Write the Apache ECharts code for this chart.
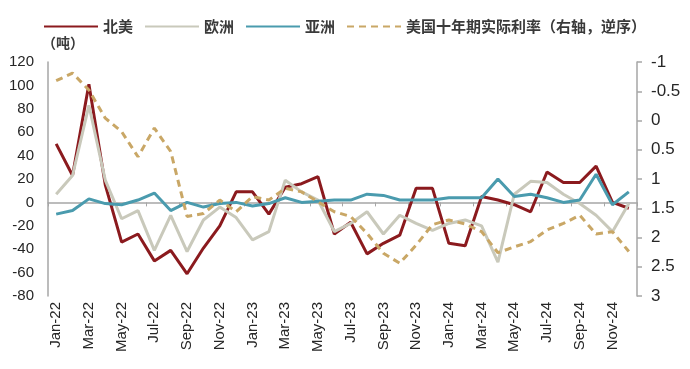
<!DOCTYPE html>
<html>
<head>
<meta charset="utf-8">
<script src="https://cdn.jsdelivr.net/npm/echarts@6/dist/echarts.min.js"></script>
<style>
html,body{margin:0;padding:0;background:#fff;}
#c{width:690px;height:369px;}
</style>
</head>
<body>
<div id="c"></div>
<script>
var months = ["Jan-22","Feb-22","Mar-22","Apr-22","May-22","Jun-22","Jul-22","Aug-22","Sep-22","Oct-22","Nov-22","Dec-22",
              "Jan-23","Feb-23","Mar-23","Apr-23","May-23","Jun-23","Jul-23","Aug-23","Sep-23","Oct-23","Nov-23","Dec-23",
              "Jan-24","Feb-24","Mar-24","Apr-24","May-24","Jun-24","Jul-24","Aug-24","Sep-24","Oct-24","Nov-24","Dec-24"];
var northAmerica = [50, 23, 101, 15, -34, -27, -50, -41, -61, -39, -20, 9,
                    9, -10, 13, 16, 22, -27, -17, -44, -35, -28, 12, 12,
                    -35, -37, 5, 2, -2, -8, 26, 17, 17, 31, 0, -5];
var europe = [7, 23, 83, 19, -14, -7, -41, -11, -42, -15, -4, -13,
              -32, -25, 19, 9, 2, -25, -18, -8, -27, -11, -18, -24,
              -18, -15, -20, -51, 7, 18, 17, 7, -1, -11, -25, -1];
var asia = [-10, -7, 3, -1, -2, 2, 8, -7, 0, -4, -1, 0,
            -3, -1, 4, 0, 1, 2, 2, 7, 6, 2, 2, 2,
            4, 4, 4, 20, 5, 7, 4, 0, 2, 24, -2, 9];
var realRate = [-0.68, -0.81, -0.52, -0.04, 0.19, 0.62, 0.13, 0.53, 1.64, 1.59, 1.36, 1.56,
                1.30, 1.36, 1.16, 1.22, 1.39, 1.56, 1.64, 1.93, 2.27, 2.44, 2.13, 1.78,
                1.70, 1.77, 1.90, 2.26, 2.16, 2.07, 1.87, 1.76, 1.62, 1.94, 1.90, 2.24];
var seriesNames = ["北美", "欧洲", "亚洲", "美国十年期实际利率（右轴，逆序）"];
var unitLabel = "（吨）";

var axisGray = '#a6a6a6';
var chart = echarts.init(document.getElementById('c'), null, {renderer: 'canvas'});
chart.setOption({
  animation: false,
  backgroundColor: '#fff',
  grid: {left: 48, right: 53, top: 62, bottom: 73, containLabel: false, outerBoundsMode: 'none'},
  legend: {
    left: 38, top: 14,
    itemWidth: 54, itemHeight: 12, itemGap: 11,
    itemStyle: {opacity: 0},
    textStyle: {fontFamily: 'Noto Sans CJK SC', fontSize: 15, fontWeight: 'bold', color: '#3a3a3a'},
    data: seriesNames
  },
  graphic: [{
    type: 'text', left: 42, top: 36,
    style: {text: unitLabel, fontFamily: 'Noto Sans CJK SC', fontSize: 14, fontWeight: 'bold', fill: '#3a3a3a'}
  }],
  xAxis: [{
    type: 'category', data: months, boundaryGap: true, position: 'bottom',
    axisLine: {show: false, onZero: false},
    axisTick: {show: false},
    axisLabel: {interval: 1, rotate: 90, margin: 6, fontFamily: 'Liberation Sans', fontSize: 15, color: '#262626'},
    splitLine: {show: false}
  }, {
    type: 'category', data: months, boundaryGap: true, position: 'bottom',
    axisLine: {show: true, onZero: true, onZeroAxisIndex: 0, lineStyle: {color: axisGray, width: 1.5}},
    axisTick: {show: true, interval: 1, length: 4, lineStyle: {color: axisGray}},
    axisLabel: {show: false},
    splitLine: {show: false}
  }],
  yAxis: [{
    type: 'value', min: -80, max: 120, interval: 20,
    axisLine: {show: true, onZero: false, lineStyle: {color: axisGray, width: 1.5}},
    axisTick: {show: false},
    axisLabel: {margin: 14, fontFamily: 'Liberation Sans', fontSize: 15, color: '#262626'},
    splitLine: {show: false}
  }, {
    type: 'value', min: -1, max: 3, interval: 0.5, inverse: true, position: 'right',
    axisLine: {show: true, onZero: false, lineStyle: {color: axisGray, width: 1.5}},
    axisTick: {show: true, length: 5, lineStyle: {color: axisGray, width: 1.5}},
    axisLabel: {margin: 14, fontFamily: 'Liberation Sans', fontSize: 17, color: '#262626'},
    splitLine: {show: false}
  }],
  series: [{
    name: seriesNames[0], type: 'line', xAxisIndex: 0, yAxisIndex: 0, data: northAmerica, symbol: 'none',
    color: '#8b1a1e', lineStyle: {width: 3, color: '#8b1a1e'}
  }, {
    name: seriesNames[1], type: 'line', xAxisIndex: 0, yAxisIndex: 0, data: europe, symbol: 'none',
    color: '#c9c9bb', lineStyle: {width: 3, color: '#c9c9bb'}
  }, {
    name: seriesNames[2], type: 'line', xAxisIndex: 0, yAxisIndex: 0, data: asia, symbol: 'none',
    color: '#4a9bae', lineStyle: {width: 3, color: '#4a9bae'}
  }, {
    name: seriesNames[3], type: 'line', xAxisIndex: 0, yAxisIndex: 1, data: realRate, symbol: 'none',
    color: '#c9a766', lineStyle: {width: 3, color: '#c9a766', type: [7, 5]}
  }]
});
</script>
</body>
</html>
